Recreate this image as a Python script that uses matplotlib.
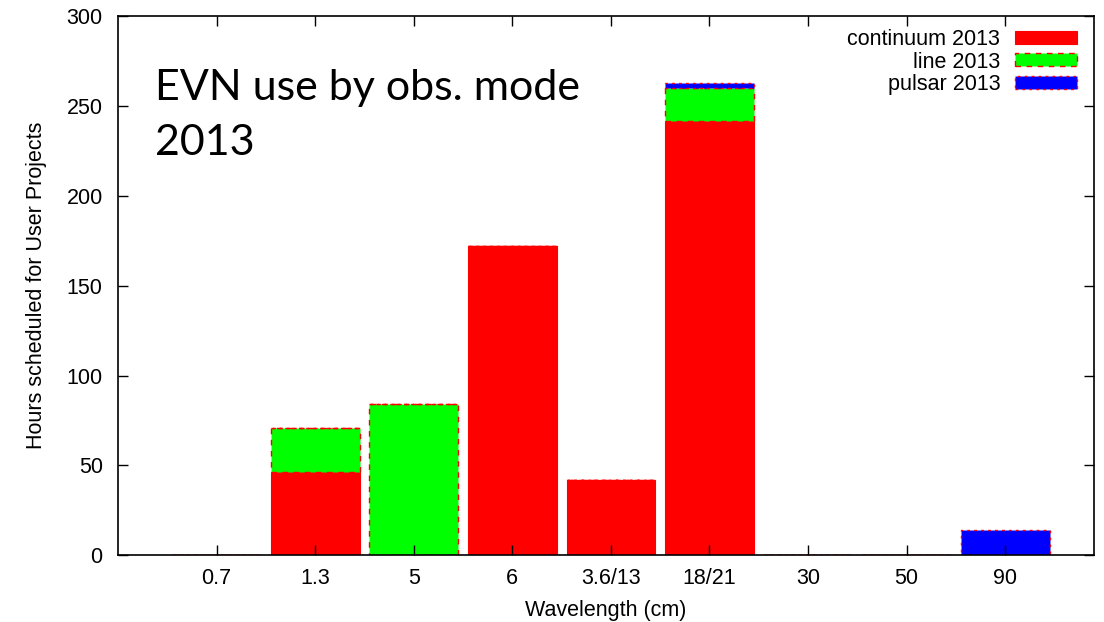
import numpy as np
import matplotlib
matplotlib.use('Agg')
import matplotlib.pyplot as plt

# hours per observing band, stacked by mode
bands = ['0.7', '1.3', '5', '6', '3.6/13', '18/21', '30', '50', '90']
continuum = [0, 46, 0, 172, 42, 242, 0, 0, 0]
line = [0, 25, 84, 0, 0, 18, 0, 0, 0]
pulsar = [0, 0, 0, 0, 0, 3, 0, 0, 14]

plt.rcParams['font.family'] = ['Liberation Sans', 'DejaVu Sans']

fig = plt.figure(figsize=(11.04, 6.22), dpi=100)
ax = fig.add_axes([0.1069, 0.1077, 0.884, 0.8658])

x = np.arange(len(bands))
w = 0.9
cont = np.array(continuum)
ln = np.array(line)
pl = np.array(pulsar)

ax.bar(x, cont, w, color='#ff0000', edgecolor='#ff0000', linewidth=0.8,
       label='continuum 2013')
ax.bar(x, ln, w, bottom=cont, color='#00ff00', edgecolor='#ff0000',
       linewidth=1.0, linestyle=(0, (4, 4)), label='line 2013')
ax.bar(x, pl, w, bottom=cont + ln, color='#0000ff', edgecolor='#ff0000',
       linewidth=1.0, linestyle=(0, (2, 3)), label='pulsar 2013')

ax.set_xlim(-1, 8.9)
ax.set_ylim(0, 300)
ax.set_xticks(x)
ax.set_xticklabels(bands)
ax.set_yticks(range(0, 301, 50))
ax.tick_params(direction='in', length=7, width=1, labelsize=15.5,
               top=True, right=True, color='black')
ax.tick_params(axis='x', pad=9)
ax.tick_params(axis='y', pad=11)
for s in ax.spines.values():
    s.set_linewidth(1.2)

ax.set_xlabel('Wavelength (cm)', fontsize=15.5, labelpad=8)
ax.set_ylabel('Hours scheduled for User Projects', fontsize=15.5, labelpad=14)

ax.text(0.038, 0.903, 'EVN use by obs. mode\n2013', transform=ax.transAxes,
        fontsize=31, family=['Lato', 'DejaVu Sans'], va='top', ha='left',
        linespacing=1.55)

leg = ax.legend(loc='upper right', bbox_to_anchor=(1.0, 1.009), frameon=False,
                markerfirst=False, fontsize=15.5, handlelength=2.85,
                handleheight=0.55, labelspacing=0.08, borderaxespad=0.6,
                handletextpad=0.7, borderpad=0.2)

fig.savefig('out.png', dpi=100)
